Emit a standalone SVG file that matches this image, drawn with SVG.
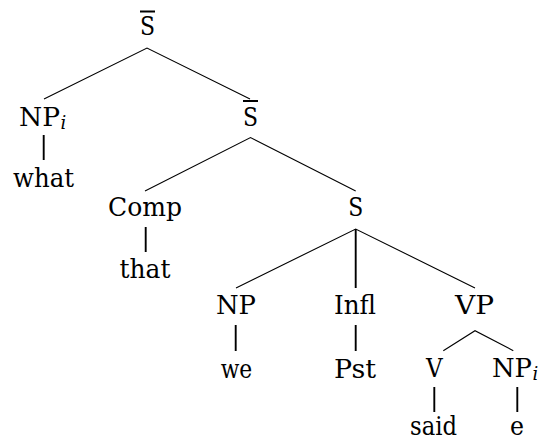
<svg xmlns="http://www.w3.org/2000/svg" width="538" height="441" viewBox="0 0 538 441">
  <style>
    text { font-family: 'DejaVu Serif', 'Liberation Serif', serif; font-size: 26px; fill: #000; text-anchor: middle; }
    .sub { font-style: italic; font-size: 18px; text-anchor: start; }
    .edge { stroke: #000; stroke-width: 1.1; fill: none; }
    .stem { stroke: #000; stroke-width: 1.9; fill: none; }
    .bar { stroke: #000; stroke-width: 2; }
  </style>
  <rect width="538" height="441" fill="#fff"/>

  <!-- tree branches -->
  <g id="connectors">
    <path class="edge" d="M44 99 L147 48 L250 99"/>
    <path class="edge" d="M145 191 L250.5 137.5 L355.7 191"/>
    <path class="edge" d="M236 288 L355.7 229 L475 288"/>
    <path class="stem" d="M355.7 229 V288"/>
    <path class="edge" d="M443.3 350.7 L475 330.7 L513.3 350.7"/>
    <path class="stem" d="M43.7 135 V160"/>
    <path class="stem" d="M145.7 227 V252"/>
    <path class="stem" d="M235.7 325 V351"/>
    <path class="stem" d="M355.7 325 V351"/>
    <path class="stem" d="M434.3 387 V412"/>
    <path class="stem" d="M517.3 387 V412"/>
  </g>

  <g id="sbar-root">
    <line class="bar" x1="140" y1="11.5" x2="155" y2="11.5"/>
    <text x="147.5" y="34.5" textLength="15" lengthAdjust="spacingAndGlyphs">S</text>
  </g>
  <g id="np-i-what">
    <text x="39.5" y="126" textLength="41" lengthAdjust="spacingAndGlyphs">NP</text>
    <text class="sub" x="60.5" y="129">i</text>
  </g>
  <g id="what">
    <text x="43.5" y="187" textLength="61" lengthAdjust="spacingAndGlyphs">what</text>
  </g>
  <g id="sbar">
    <line class="bar" x1="243" y1="101" x2="258" y2="101"/>
    <text x="250.5" y="126" textLength="15" lengthAdjust="spacingAndGlyphs">S</text>
  </g>
  <g id="comp">
    <text x="145" y="216" textLength="74" lengthAdjust="spacingAndGlyphs">Comp</text>
  </g>
  <g id="that">
    <text x="145" y="278" textLength="51" lengthAdjust="spacingAndGlyphs">that</text>
  </g>
  <g id="s">
    <text x="355.7" y="216" textLength="15" lengthAdjust="spacingAndGlyphs">S</text>
  </g>
  <g id="np">
    <text x="236" y="314" textLength="40" lengthAdjust="spacingAndGlyphs">NP</text>
  </g>
  <g id="we">
    <text x="236.5" y="378" textLength="31.6" lengthAdjust="spacingAndGlyphs">we</text>
  </g>
  <g id="infl">
    <text x="355" y="314" textLength="42" lengthAdjust="spacingAndGlyphs">Infl</text>
  </g>
  <g id="pst">
    <text x="355" y="378" textLength="42" lengthAdjust="spacingAndGlyphs">Pst</text>
  </g>
  <g id="vp">
    <text x="474.5" y="314" textLength="39" lengthAdjust="spacingAndGlyphs">VP</text>
  </g>
  <g id="v">
    <text x="434.3" y="377" textLength="16.7" lengthAdjust="spacingAndGlyphs">V</text>
  </g>
  <g id="np-i-e">
    <text x="512" y="377" textLength="40" lengthAdjust="spacingAndGlyphs">NP</text>
    <text class="sub" x="532.5" y="380">i</text>
  </g>
  <g id="said">
    <text x="433.5" y="434.5" textLength="47" lengthAdjust="spacingAndGlyphs">said</text>
  </g>
  <g id="e">
    <text x="517" y="434.5" textLength="14" lengthAdjust="spacingAndGlyphs">e</text>
  </g>
</svg>
